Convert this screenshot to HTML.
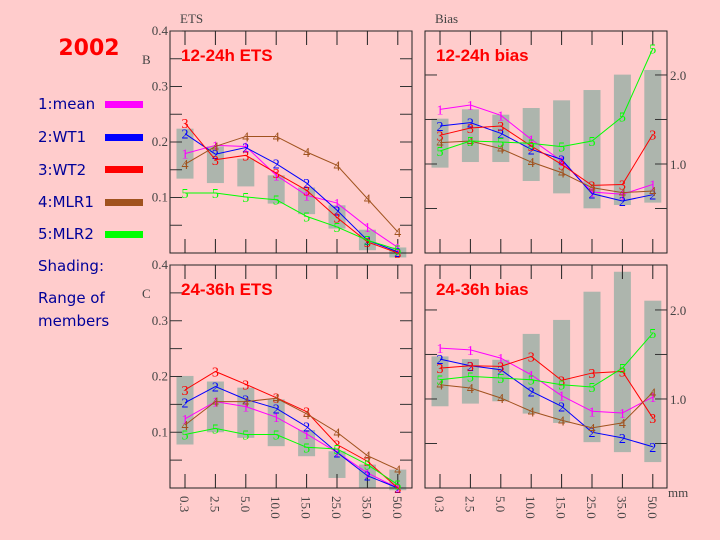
<!DOCTYPE html>
<html><head><meta charset="utf-8"><style>
html,body{margin:0;padding:0;background:#ffcccc;}
svg{display:block;}
.leg{font-family:"DejaVu Sans","Liberation Sans",sans-serif;font-size:15px;fill:#000099;}
.tk{font-family:"Liberation Serif",serif;font-size:13px;fill:#444;}
.ttl{font-family:"Liberation Sans",sans-serif;font-size:17px;font-weight:bold;fill:#ff0000;}
.mk{font-family:"Liberation Serif",serif;font-size:14px;text-anchor:middle;}
</style></head><body>
<svg id="chart" width="720" height="540" viewBox="0 0 720 540">
<rect width="720" height="540" fill="#ffcccc"/>
<text x="89" y="55" text-anchor="middle" style="font-family:'DejaVu Sans','Liberation Sans',sans-serif;font-size:22px;font-weight:bold;fill:#ff0000">2002</text>
<g>
<text class="leg" x="38" y="109">1:mean</text>
<rect x="105" y="101" width="38" height="7" fill="#ff00ff"/>
<text class="leg" x="38" y="142">2:WT1</text>
<rect x="105" y="134" width="38" height="7" fill="#0000ff"/>
<text class="leg" x="38" y="175">3:WT2</text>
<rect x="105" y="166" width="38" height="7" fill="#ff0000"/>
<text class="leg" x="38" y="207">4:MLR1</text>
<rect x="105" y="199" width="38" height="7" fill="#a0521e"/>
<text class="leg" x="38" y="239">5:MLR2</text>
<rect x="105" y="231" width="38" height="7" fill="#00ff00"/>
<text class="leg" x="38" y="271">Shading:</text>
<text class="leg" x="38" y="303">Range of</text>
<text class="leg" x="38" y="326">members</text>
</g>
<text class="tk" x="180" y="23" font-size="14">ETS</text>
<text class="tk" x="435" y="23" font-size="14">Bias</text>
<text class="tk" x="142" y="64" font-size="14">B</text>
<text class="tk" x="142" y="298" font-size="14">C</text>
<text class="tk" x="668" y="497">mm</text>
<g id="plots"></g>
</svg>
<script>
const categories = ["0.3","2.5","5.0","10.0","15.0","25.0","35.0","50.0"];
const seriesNames = ["1","2","3","4","5"];
const seriesColors = ["#ff00ff","#0000ff","#ff0000","#a0521e","#00ff00"];
const etsTicks = [0.1,0.2,0.3,0.4];
const biasTicks = [1.0,2.0];
// 12-24h ETS
const ets12Mean = [0.179,0.194,0.192,0.14,0.104,0.09,0.047,0.01];
const ets12WT1  = [0.215,0.178,0.19,0.161,0.126,0.077,0.023,0.002];
const ets12WT2  = [0.234,0.168,0.176,0.144,0.113,0.064,0.02,0.0];
const ets12MLR1 = [0.16,0.192,0.21,0.21,0.182,0.158,0.098,0.038];
const ets12MLR2 = [0.108,0.108,0.101,0.096,0.066,0.047,0.023,0.006];
const ets12Hi = [0.224,0.192,0.17,0.14,0.118,0.086,0.042,0.01];
const ets12Lo = [0.134,0.126,0.12,0.089,0.07,0.044,0.005,-0.008];
// 12-24h bias
const bias12Mean = [1.614,1.663,1.547,1.277,1.034,0.685,0.66,0.77];
const bias12WT1  = [1.427,1.464,1.345,1.165,1.052,0.667,0.584,0.655];
const bias12WT2  = [1.322,1.404,1.427,1.202,0.996,0.76,0.77,1.333];
const bias12MLR1 = [1.24,1.258,1.172,1.022,0.903,0.734,0.678,0.697];
const bias12MLR2 = [1.146,1.258,1.247,1.232,1.195,1.258,1.532,2.296];
const bias12Hi = [1.509,1.614,1.554,1.629,1.715,1.831,2.004,2.056];
const bias12Lo = [0.959,1.022,1.022,0.809,0.67,0.502,0.539,0.566];
// 24-36h ETS
const ets24Mean = [0.124,0.155,0.146,0.127,0.097,0.064,0.027,0.0];
const ets24WT1  = [0.153,0.182,0.159,0.143,0.11,0.064,0.022,0.0];
const ets24WT2  = [0.176,0.209,0.186,0.162,0.137,0.078,0.048,0.0];
const ets24MLR1 = [0.113,0.155,0.155,0.161,0.133,0.1,0.058,0.033];
const ets24MLR2 = [0.096,0.107,0.096,0.096,0.073,0.07,0.042,0.006];
const ets24Hi = [0.201,0.191,0.18,0.159,0.104,0.066,0.042,0.033];
const ets24Lo = [0.078,0.1,0.09,0.075,0.057,0.018,0.0,-0.004];
// 24-36h bias
const bias24Mean = [1.571,1.552,1.459,1.272,1.037,0.862,0.843,1.022];
const bias24WT1  = [1.448,1.373,1.328,1.086,0.918,0.627,0.563,0.463];
const bias24WT2  = [1.347,1.373,1.366,1.478,1.209,1.291,1.31,0.787];
const bias24MLR1 = [1.16,1.123,1.011,0.862,0.761,0.675,0.731,1.075];
const bias24MLR2 = [1.216,1.254,1.235,1.216,1.16,1.134,1.347,1.739];
const bias24Hi = [1.478,1.448,1.44,1.731,1.888,2.205,2.429,2.104];
const bias24Lo = [0.918,0.948,0.974,0.836,0.731,0.515,0.403,0.291];

const NS="http://www.w3.org/2000/svg";
const root=document.getElementById('plots');
function mk(tag,attrs,parent){const e=document.createElementNS(NS,tag);for(const k in attrs)e.setAttribute(k,attrs[k]);(parent||root).appendChild(e);return e;}

function panel(cfg){
  const {x0,x1,yTop,yBot,vmax,kind,title,name,series,hi,lo,showX}=cfg;
  const g=mk('g',{});
  
  
  const catX0=x0+15, step=30.4;
  const xs=i=>catX0+i*step;
  const ys=v=>yBot-(v/vmax)*(yBot-yTop);
  hi.forEach((h,i)=>{
    const r=mk('rect',{x:xs(i)-8.5,y:ys(h),width:17,height:ys(lo[i])-ys(h),fill:'#adb5ad'},g);
    
    
  });
  const f=mk('rect',{x:x0,y:yTop,width:x1-x0,height:yBot-yTop,fill:'none',stroke:'#222','stroke-width':1},g);
  
  
  categories.forEach((c,i)=>{
    mk('line',{x1:xs(i),x2:xs(i),y1:yTop,y2:yTop+14,stroke:'#222'},g);
    mk('line',{x1:xs(i),x2:xs(i),y1:yBot,y2:yBot-14,stroke:'#222'},g);
    if(showX){
      const t=mk('text',{class:'tk',transform:`translate(${xs(i)-5},${yBot+8}) rotate(90)`,'font-size':14},g);
      t.textContent=c;
      
      
    }
  });
  if(kind==='ets'){
    for(let k=1;k<=8;k++){const v=k*0.05,y=ys(v);
      mk('line',{x1:x0,x2:x0+12,y1:y,y2:y,stroke:'#333'},g);
      mk('line',{x1:x1,x2:x1-12,y1:y,y2:y,stroke:'#333'},g);}
    etsTicks.forEach(v=>{const t=mk('text',{class:'tk',x:x0-2,y:ys(v)+4,'text-anchor':'end'},g);t.textContent=v.toFixed(1);
      
      });
  } else {
    for(let k=1;k<=4;k++){const v=k*0.5,y=ys(v);
      mk('line',{x1:x0,x2:x0+12,y1:y,y2:y,stroke:'#333'},g);
      mk('line',{x1:x1,x2:x1-12,y1:y,y2:y,stroke:'#333'},g);}
    biasTicks.forEach(v=>{const t=mk('text',{class:'tk',x:x1+3,y:ys(v)+5,'font-size':14},g);t.textContent=v.toFixed(1);
      
      });
  }
  series.forEach((vals,s)=>{
    const pts=vals.map((v,i)=>xs(i)+','+ys(v)).join(' ');
    const l=mk('polyline',{points:pts,fill:'none',stroke:seriesColors[s],'stroke-width':1},g);
    
    
    vals.forEach((v,i)=>{
      const t=mk('text',{class:'mk',x:xs(i),y:ys(v)+5,fill:seriesColors[s]},g);
      t.textContent=seriesNames[s];
      
      
    });
  });
  const tt=mk('text',{class:'ttl',x:x0+11,y:yTop+30},g);
  tt.textContent=title;
  
  
}
panel({x0:170,x1:412,yTop:31,yBot:253,vmax:0.4,kind:'ets',title:'12-24h ETS',name:'panel-12-24h-ets',
  series:[ets12Mean,ets12WT1,ets12WT2,ets12MLR1,ets12MLR2],hi:ets12Hi,lo:ets12Lo,showX:false});
panel({x0:425,x1:667,yTop:31,yBot:253,vmax:2.494,kind:'bias',title:'12-24h bias',name:'panel-12-24h-bias',
  series:[bias12Mean,bias12WT1,bias12WT2,bias12MLR1,bias12MLR2],hi:bias12Hi,lo:bias12Lo,showX:false});
panel({x0:170,x1:412,yTop:265,yBot:488,vmax:0.4,kind:'ets',title:'24-36h ETS',name:'panel-24-36h-ets',
  series:[ets24Mean,ets24WT1,ets24WT2,ets24MLR1,ets24MLR2],hi:ets24Hi,lo:ets24Lo,showX:true});
panel({x0:425,x1:667,yTop:265,yBot:488,vmax:2.505,kind:'bias',title:'24-36h bias',name:'panel-24-36h-bias',
  series:[bias24Mean,bias24WT1,bias24WT2,bias24MLR1,bias24MLR2],hi:bias24Hi,lo:bias24Lo,showX:true});
</script>
</body></html>
